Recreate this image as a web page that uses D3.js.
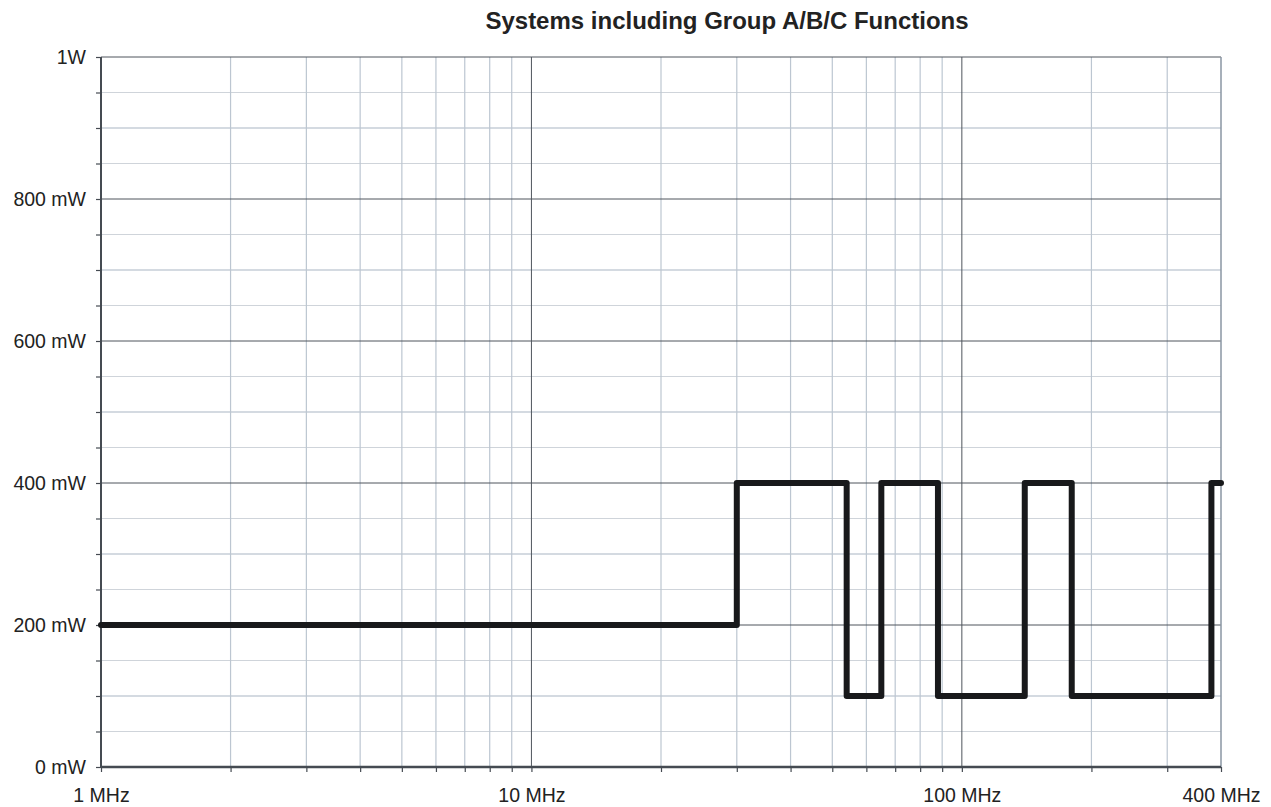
<!DOCTYPE html>
<html><head><meta charset="utf-8">
<script src="https://cdn.jsdelivr.net/npm/d3@7"></script>
<style>body{margin:0;background:#fff;} text{font-family:"Liberation Sans",Arial,sans-serif;}</style>
</head><body>
<svg id="c" width="1271" height="807"></svg>
<script>
const title = "Systems including Group A/B/C Functions";
const freqMHz = [1, 30, 54, 65, 88, 140, 180, 380, 400];
const powerMW = [200, 400, 100, 400, 100, 400, 100, 400, 400];
const xTickValues = [1, 10, 100, 400];
const xTickLabels = ["1 MHz", "10 MHz", "100 MHz", "400 MHz"];
const yTickValues = [0, 200, 400, 600, 800, 1000];
const yTickLabels = ["0 mW", "200 mW", "400 mW", "600 mW", "800 mW", "1W"];

const svg = d3.select("#c");
const L = 101, R = 1221, T = 57, B = 767;
const x = d3.scaleLog().domain([1, 400]).range([L, R]);
const y = d3.scaleLinear().domain([0, 1000]).range([B, T]);

const xMinor = [];
[1, 10, 100].forEach(d => { for (let k = 2; k <= 9; k++) if (d * k < 400) xMinor.push(d * k); });
const yMinor = d3.range(50, 1000, 50).filter(v => v % 200 !== 0);

const g = svg.append("g");
g.selectAll("line.hm").data(yMinor).join("line")
  .attr("x1", L).attr("x2", R).attr("y1", d => y(d)).attr("y2", d => y(d))
  .attr("stroke", d => d % 100 === 0 ? "#a9b6c3" : "#cfd4da").attr("stroke-width", 1.2);
g.selectAll("line.vm").data(xMinor).join("line")
  .attr("y1", T).attr("y2", B).attr("x1", d => x(d)).attr("x2", d => x(d))
  .attr("stroke", "#bcc6d1").attr("stroke-width", 1.2);
g.selectAll("line.hM").data(yTickValues.filter(v => v > 0)).join("line")
  .attr("x1", L).attr("x2", R).attr("y1", d => y(d)).attr("y2", d => y(d))
  .attr("stroke", "#4e555c").attr("stroke-width", 1);
g.selectAll("line.vM").data(xTickValues.filter(v => v > 1)).join("line")
  .attr("y1", T).attr("y2", B).attr("x1", d => x(d)).attr("x2", d => x(d))
  .attr("stroke", d => d === 400 ? "#8a96a3" : "#4e555c").attr("stroke-width", d => d === 400 ? 1.5 : 1);

const FS = 19.5;
const xAxis = d3.axisBottom(x).tickValues([1, ...xMinor, 10, 100, 400]).tickSize(5)
  .tickFormat(d => { const i = xTickValues.indexOf(d); return i >= 0 ? xTickLabels[i] : ""; });
const xa = svg.append("g").attr("transform", `translate(0,${B})`).call(xAxis);
xa.select(".domain").attr("stroke", "#454b52").attr("stroke-width", 2.5).attr("d", `M${L},0H${R}`);
xa.selectAll(".tick line").attr("stroke", "#454b52").attr("stroke-width", 1.2);
xa.selectAll(".tick text").attr("font-size", FS).attr("fill", "#222").attr("y", 35).attr("dy", 0)
  .attr("font-family", "Liberation Sans, Arial, sans-serif");

const yAxis = d3.axisLeft(y).tickValues(d3.range(0, 1001, 50)).tickSize(5)
  .tickFormat(d => { const i = yTickValues.indexOf(d); return i >= 0 ? yTickLabels[i] : ""; });
const ya = svg.append("g").attr("transform", `translate(${L},0)`).call(yAxis);
ya.select(".domain").attr("stroke", "#454b52").attr("stroke-width", 2).attr("d", `M0,${T}V${B}`);
ya.selectAll(".tick line").attr("stroke", "#454b52").attr("stroke-width", 1.2);
ya.selectAll(".tick text").attr("font-size", FS).attr("fill", "#222").attr("x", -15)
  .attr("font-family", "Liberation Sans, Arial, sans-serif");

const data = freqMHz.map((f, i) => [f, powerMW[i]]);
const line = d3.line().x(d => x(d[0])).y(d => y(d[1])).curve(d3.curveStepAfter);
svg.append("path").datum(data).attr("d", line)
  .attr("fill", "none").attr("stroke", "#18191b").attr("stroke-width", 6)
  .attr("stroke-linejoin", "round").attr("stroke-linecap", "round");

svg.append("text").attr("x", 727).attr("y", 29).attr("text-anchor", "middle")
  .attr("font-size", 24).attr("font-weight", "bold").attr("fill", "#222").text(title);
</script>
</body></html>
